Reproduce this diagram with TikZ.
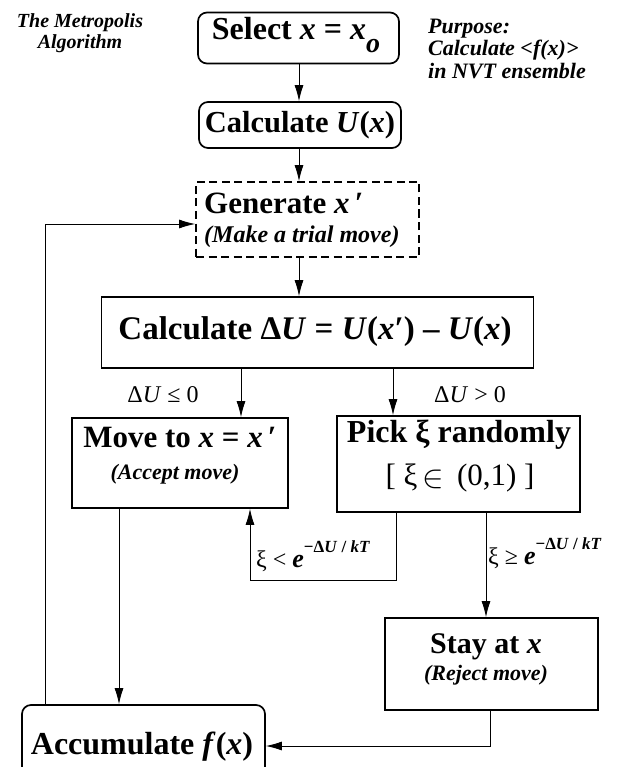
\documentclass[tikz,border=0pt]{standalone}
\usepackage{fontspec}
\setmainfont{Liberation Serif}
\usetikzlibrary{arrows.meta}
\newcommand{\fs}[1]{\fontsize{#1}{#1}\selectfont}
\newcommand{\bi}[1]{\textbf{\textit{#1}}}
\begin{document}
\begin{tikzpicture}[x=1pt,y=-1pt,
  box/.style={draw, line width=1.7pt, inner sep=0pt},
  rbox/.style={box, rounded corners=9pt},
  dbox/.style={box, dash pattern=on 8pt off 4.5pt},
  txt/.style={inner sep=0pt, anchor=center},
  arr/.style={-{Latex[length=16pt,width=9pt]}, line width=0.9pt}]
\useasboundingbox (0,0) rectangle (618,767);
\clip (0,0) rectangle (618,767);
% titles
\node[txt, align=center, font=\fs{20}\bfseries\itshape] (title) at (80,33) {The Metropolis\\[1pt]Algorithm};
\node[txt, anchor=west, font=\fs{22}\bfseries\itshape] (p1) at (428,29) {Purpose:};
\node[txt, anchor=west, font=\fs{22}\bfseries\itshape] (p2) at (428,50) {Calculate <\textit{f}(\textit{x})>};
\node[txt, anchor=west, font=\fs{22}\bfseries\itshape] (p3) at (428,71) {in NVT ensemble};
% boxes
\node[rbox, minimum width=201pt, minimum height=51pt] (sel) at (298.5,38) {};
\node[rbox, minimum width=202pt, minimum height=46pt] (calc) at (300,125) {};
\node[dbox, minimum width=223pt, minimum height=75pt] (gen) at (307.5,219.5) {};
\node[box, minimum width=432pt, minimum height=71pt] (du) at (317.5,332.5) {};
\node[box, minimum width=216pt, minimum height=90pt] (move) at (180,463) {};
\node[box, minimum width=243pt, minimum height=96pt] (pick) at (458.5,464) {};
\node[box, minimum width=213pt, minimum height=92pt] (stay) at (491.5,664) {};
\node[rbox, minimum width=243pt, minimum height=82pt] (acc) at (143.5,746) {};
% texts
\node[txt, font=\fs{32}\bfseries] (selT) at (296,35) {Select \textit{x} = \textit{x}\raisebox{-0.4em}{\fs{28}\textit{o}}};
\node[txt, font=\fs{30.5}\bfseries] (calcT) at (300,125) {Calculate \textit{U}(\textit{x})};
\node[txt, anchor=west, font=\fs{31}\bfseries] (genT) at (204,203) {Generate \textit{x}\,′};
\node[txt, anchor=west, font=\fs{24}\bfseries\itshape] (genS) at (204,237) {(Make a trial move)};
\node[txt, font=\fs{33}\bfseries] (duT) at (315,332) {Calculate Δ\textit{U} = \textit{U}(\textit{x}′) – \textit{U}(\textit{x})};
\node[txt, font=\fs{31}\bfseries] (moveT) at (180,437) {Move to \textit{x} = \textit{x}\,′};
\node[txt, font=\fs{22}\bfseries\itshape] (moveS) at (175,474) {(Accept move)};
\node[txt, font=\fs{32}\bfseries] (pickT) at (459,435) {Pick ξ randomly};
\node[txt, font=\fs{31}] (pickS) at (460,478) {[ ξ\,\raisebox{-0.06em}{\scalebox{1.3}{$\in$}}\, (0,1) ]};
\node[txt, font=\fs{30}\bfseries] (stayT) at (486,647) {Stay at \textit{x}};
\node[txt, font=\fs{22}\bfseries\itshape] (stayS) at (486,675) {(Reject move)};
\node[txt, font=\fs{32}\bfseries] (accT) at (142,747) {Accumulate \textit{f}(\textit{x})};
% labels
\node[txt, font=\fs{24}] (l1) at (163,395) {Δ\textit{U} ≤ 0};
\node[txt, font=\fs{24}] (l2) at (470,395) {Δ\textit{U} > 0};
\node[txt, anchor=west, font=\fs{24}] (l3) at (256,556) {ξ < {\fs{26}\bi{e}}\raisebox{0.62em}{\fs{17}\textbf{−Δ\textit{U} / \textit{kT}}}};
\node[txt, anchor=west, font=\fs{24}] (l4) at (488,553) {ξ ≥ {\fs{26}\bi{e}}\raisebox{0.62em}{\fs{17}\textbf{−Δ\textit{U} / \textit{kT}}}};
% connector helpers
\coordinate (c300) at (299,0);
\coordinate (cl) at (241,0);
\coordinate (cr) at (393,0);
\coordinate (pl) at (396,580);
\coordinate (ml) at (250,0);
\coordinate (ps) at (486,0);
\coordinate (ss) at (490,0);
\coordinate (ma) at (119,0);
\coordinate (fb) at (45,224);
% connectors
\draw[arr] (sel.south -| c300) -- (calc.north -| c300);
\draw[arr] (calc.south -| c300) -- (gen.north -| c300);
\draw[arr] (gen.south -| c300) -- (du.north -| c300);
\draw[arr] (du.south -| cl) -- (move.north -| cl);
\draw[arr] (du.south -| cr) -- (pick.north -| cr);
\draw[arr] (pick.south -| pl) |- (pl -| ml) -- (move.south -| ml);
\draw[arr] (pick.south -| ps) -- (stay.north -| ps);
\draw[arr] (stay.south -| ss) |- (acc.east);
\draw[arr] (move.south -| ma) -- (acc.north -| ma);
\draw[arr] (acc.north -| fb) |- (gen.west |- fb);
\end{tikzpicture}
\end{document}
